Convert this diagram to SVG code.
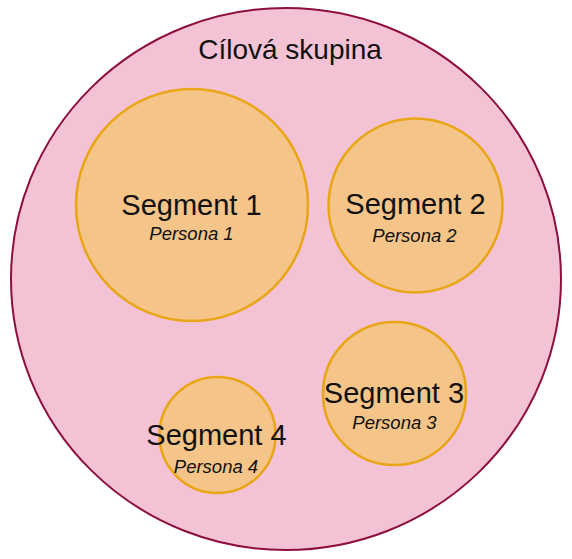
<svg xmlns="http://www.w3.org/2000/svg" width="572" height="559" viewBox="0 0 572 559">
<style>
.outer{fill:#F3C3D5;stroke:#8E0F3E;stroke-width:2}
.seg{fill:#F5C488;stroke:#E8A515;stroke-width:2.5}
.t{font-family:"Liberation Sans",Arial,sans-serif;fill:#111;text-anchor:middle}
.s{font-size:29px}
.p{font-size:18.5px;font-style:italic}
.h{font-size:28px}
</style>
<rect width="572" height="559" fill="#FFFFFF"/>
<g id="cilova-skupina">
<ellipse class="outer" cx="286" cy="279" rx="275" ry="271"/>
<text class="t h" x="290" y="59">Cílová skupina</text>
</g>
<g id="segment1">
<circle class="seg" cx="192" cy="205" r="116"/>
<text class="t s" x="191.5" y="215">Segment 1</text>
<text class="t p" x="191.5" y="240">Persona 1</text>
</g>
<g id="segment2">
<circle class="seg" cx="415.5" cy="205.5" r="87"/>
<text class="t s" x="415.5" y="214">Segment 2</text>
<text class="t p" x="414.5" y="242">Persona 2</text>
</g>
<g id="segment3">
<circle class="seg" cx="394.5" cy="393.5" r="71.5"/>
<text class="t s" x="394" y="403">Segment 3</text>
<text class="t p" x="394.5" y="429">Persona 3</text>
</g>
<g id="segment4">
<circle class="seg" cx="217.5" cy="435" r="58"/>
<text class="t s" x="216.5" y="445">Segment 4</text>
<text class="t p" x="216" y="473">Persona 4</text>
</g>
<g id="connectors"></g>
</svg>
